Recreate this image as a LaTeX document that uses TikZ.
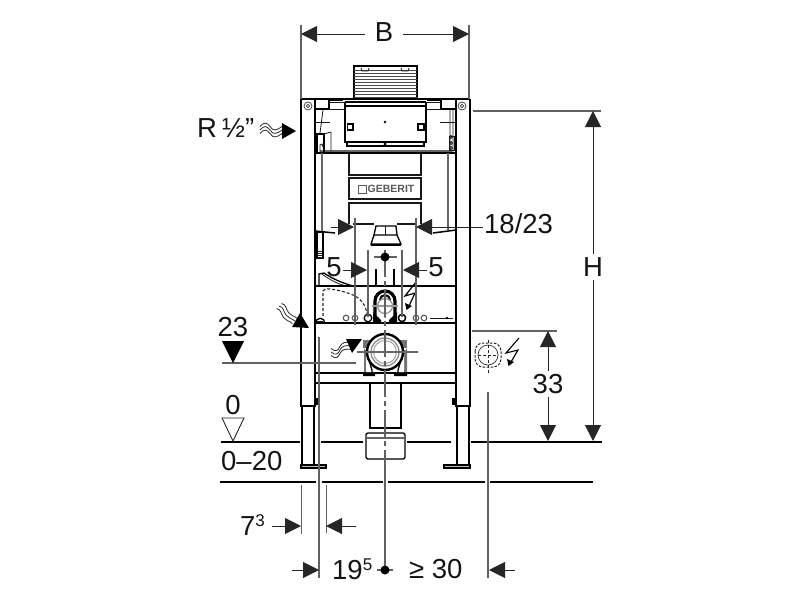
\documentclass[tikz,border=0pt]{standalone}
\usepackage{fontspec}
\setmainfont{Liberation Sans}
\usetikzlibrary{arrows.meta}
\definecolor{ln}{gray}{0.38}
\tikzset{
  heavy/.style={draw=black,line width=2.2pt},
  med/.style={draw=black,line width=1.3pt},
  fine/.style={draw=black!90,line width=.8pt},
  dimline/.style={draw=ln,line width=1.2pt},
  greyline/.style={draw=black!60,line width=1.1pt},
  axis/.style={draw=ln,line width=1.2pt,dash pattern=on 27pt off 4pt on 5pt off 4pt},
  dashedthin/.style={draw=black!85,line width=.9pt,dash pattern=on 3pt off 2pt},
  dimarrow/.style={draw=black!85,line width=1pt,-{Triangle[length=16pt,width=16pt]}},
  lbl/.style={font=\fontsize{27.5}{27.5}\selectfont,inner sep=0pt,text=black!92},
  wave/.style={draw=black!80,line width=.85pt},
  ringl/.style={draw=black!65,line width=.9pt},
}
\begin{document}
\begin{tikzpicture}[x=1pt,y=-1pt]
\useasboundingbox (0,0) rectangle (800,600);
% named anchors
\coordinate (Bl) at (301,34); \coordinate (Br) at (469,34);
\coordinate (Hu) at (593,111); \coordinate (Hd) at (593,441);
\coordinate (Tu) at (548,331); \coordinate (Td) at (548,441);
% ground and floor
\draw[heavy] (221,442)--(300,442) (321,442)--(363,442) (407,442)--(451,442) (471,442)--(602,442);
\draw[heavy,line width=2pt] (220,482)--(316,482) (322,482)--(383,482) (388,482)--(485,482) (490,482)--(593,482);
% frame
\draw[heavy] (301,99)--(469,99);
\draw[heavy] (301,99)--(301,406)--(315,406)--(315,99);
\draw[heavy] (456,99)--(456,406)--(470,406)--(470,99);
\draw[heavy,line width=1.6pt] (302,406)--(302,465) (314,406)--(314,465) (457,406)--(457,465) (469,406)--(469,465);
\draw[med,fill=black!25] (301,465) rectangle (326,468);
\draw[med,fill=black!25] (444,465) rectangle (470,468);
\fill (315,398) rectangle (318,405); \fill (452,398) rectangle (456,405);
% frame details top
\foreach \x in {308,462}{\draw[ringl] (\x,106) circle (4); \draw[ringl] (\x,106) circle (1.8);}
\draw[heavy,line width=1.6pt] (315,109)--(329,109)--(329,100)--(343,100);
\draw[heavy,line width=1.6pt] (456,109)--(441,109)--(441,100)--(427,100);
\draw[fine] (329,109)--(344,109) (441,109)--(426,109) (329,102)--(344,102) (441,102)--(426,102);
\draw[heavy] (315,153)--(456,153);
\draw[greyline] (320,151)--(452,151);
\draw[fine] (315,122)--(330,122) (440,122)--(455,122);
\draw[fine] (323,110)--(320,133) (450,110)--(450,150) (453,110)--(453,152) (331,132)--(331,151);
\draw[heavy,line width=1.7pt] (317,153)--(317,134)--(324,134)--(324,153);
\draw[fine] (324,134)--(331,132);
\draw[fine] (320,153)--(320,145)--(322,144)--(323,147);
\draw[fine] (449,136) rectangle (454,150);
\draw[fine] (451,137) circle (1.5) (451,143) circle (1.5) (451,148) circle (1.5);
\draw[greyline] (322,153)--(322,232) (448,153)--(448,230);
% cistern top
\draw[med] (354,66)--(354,100) (417,66)--(417,100) (353,66)--(418,66);
\foreach \y in {70,73,76,79,82,85,88,91,94,97}{\draw[draw=black!70,line width=.75pt] (354,\y)--(417,\y);}
\draw[fine] (361,68)--(362,71)--(368,71)--(369,68) (401,68)--(402,71)--(408,71)--(409,68);
% tank
\draw[heavy] (345,102)--(426,102);
\draw[heavy] (345,106)--(426,106);
\draw[med] (345,102)--(345,143) (426,102)--(426,143);
\draw[heavy] (345,142)--(426,142);
\draw[med] (347,143)--(347,146)--(424,146)--(424,143);
\draw[heavy,line width=1.7pt] (347.5,124) rectangle (353,130);
\draw[heavy,line width=1.7pt] (418,124) rectangle (424,130);
\fill (385,122) circle (1.4) (385,144) circle (1.6);
% panels
\draw[fine,line width=1.1pt] (349,153)--(349,175)--(421,175)--(421,153);
\draw[fine,line width=1.1pt] (349,178) rectangle (421,199);
\draw[fine,line width=1.1pt] (349,224)--(349,203)--(421,203)--(421,224);
\draw[fine,draw=black!65] (358,185) rectangle (366,193);
\node[inner sep=0pt,anchor=west,text=black!65,font=\bfseries\fontsize{10.5}{10.5}\selectfont] (logo) at (367.5,189) {GEBERIT};
% bowl zone
\draw[fine,line width=1.1pt] (353,224)--(374,224) (397,224)--(417,224);
\draw[heavy,line width=1.5pt] (315,231)--(335,233) (433,233)--(456,230);
\draw[med] (374,235)--(376,226)--(396,226)--(397,235);
\draw[med] (371,244)--(374,235)--(397,235)--(401,244)--cycle;
\draw[fine] (385,226)--(385,235);
\draw[med] (371,245)--(401,245);
% left flush block
\draw[med,fill=white] (317,232) rectangle (323,258);
\foreach \y in {251,253,255,257}{\draw[fine] (317,\y)--(323,\y);}
\draw[med] (319,286)--(319,274)--(324,273) .. controls (331,278) and (342,283) .. (353,286);
\draw[fine] (322,274) .. controls (330,280) and (338,284) .. (346,286);
\draw[heavy,line width=1.8pt] (315,286)--(456,286);
\draw[heavy,line width=1.5pt] (376,269)--(376,286) (394,269)--(394,286);
\draw[dashedthin,line width=1.1pt] (323,316)--(323,291) .. controls (324,288) and (326,289) .. (330,289) .. controls (338,290) and (346,292) .. (353,295) .. controls (360,298) and (366,305) .. (367,314);
% lower bar with circles
\draw[heavy] (315,323)--(456,323);
\draw[med] (315.5,323) arc[start angle=180,end angle=360,radius=4.7];
\draw[fine] (317,321)--(323,321);
\draw[ringl,line width=1.1pt] (346,318) circle (2.8) (355,318) circle (2.8) (416,318) circle (2.8) (424,318) circle (2.8);
\draw[med] (368,318) circle (3.8);
\draw[med,line width=1.5pt] (402,318) circle (3.6);
\draw[fine] (430,318)--(453,318);
\fill (447,318) circle (1.3);
% siphon
\draw[draw=black,line width=3.2pt] (375,320)--(375,301) arc[start angle=180,end angle=360,radius=10] -- (395,320);
\draw[draw=black,line width=2pt] (380,300) arc[start angle=180,end angle=360,radius=5];
\fill (373,312)--(381,320)--(381,323)--(373,323)--cycle;
\fill (397,312)--(389,320)--(389,323)--(397,323)--cycle;
\draw[draw=white,fill=white,line width=.5pt] (385,306) circle (6);
\draw[ringl,draw=black!40,line width=1.3pt] (385,306) circle (7.5);
\draw[dimline,draw=black!40] (372,306)--(398,306);
\draw[dimline,draw=black!40] (385,290)--(385,318);
% lower bars
\draw[med] (315,373)--(456,373);
\draw[med] (315,383)--(456,383);
% flush pipe
\fill[black!55] (363,340) rectangle (407,348);
\fill[black!55] (364,348)--(373,362)--(373,372)--(364,372)--cycle;
\fill[black!55] (407,348)--(398,362)--(398,372)--(407,372)--cycle;
\fill[white] (366,350)--(374,366)--(374,372)--(366,372)--cycle;
\fill[white] (404,350)--(396,366)--(396,372)--(404,372)--cycle;
\draw[med] (366,350)--(372,370)--(372,373) (404,350)--(398,370)--(398,373);
\draw[draw=black,fill=white,line width=2.4pt] (385,352) circle (18);
\draw[ringl,draw=black!45,line width=1.3pt] (385,352) circle (14);
\draw[ringl,draw=black!40] (385,352) circle (11.5);
\fill (363,373) rectangle (375,376) (394,373) rectangle (407,376);
\draw[med] (370,383)--(370,428)--(401,428)--(401,383);
\draw[med,rounded corners=2pt] (366,459) rectangle (405,433);
\draw[greyline] (366,438)--(405,438);
% electrical (right)
\draw[dashedthin,rounded corners=8pt,line width=1pt,dash pattern=on 2.5pt off 1.5pt] (475,343) rectangle (501,367);
\draw[draw=black!80,line width=.7pt] (488,355) circle (10);
\draw[dashedthin,line width=.8pt] (478,355)--(498,355) (488,340)--(488,375);
\draw[draw=black,line width=1.1pt] (519,338)--(506,353)--(518,350)--(511,362);
\fill (508.5,366)--(507,359)--(514,362)--cycle;
% electrical (centre)
\draw[draw=black,line width=1.2pt] (416,282)--(405,296)--(415,293)--(409,306);
\fill (406.5,310)--(405,303)--(412,306)--cycle;
% waves
\foreach \d in {-3.5,0,3.5}{
 \draw[wave] (260,130+\d) .. controls (264,125+\d) and (267,126+\d) .. (270,130+\d) .. controls (273,135+\d) and (277,134+\d) .. (282,130+\d);
 \draw[wave] (331,352+\d) .. controls (336,356+\d) and (338,354+\d) .. (340,350+\d) .. controls (342,346+\d) and (345,345+\d) .. (352,346+\d);
}
\foreach \d in {-2.5,0,2.5}{
 \draw[wave] (279+\d,306-\d) .. controls (284+\d,307-\d) and (283+\d,311-\d) .. (286+\d,315-\d) .. controls (288+\d,318-\d) and (291+\d,318-\d) .. (295+\d,321-\d);
}
\fill (282,123)--(296,131)--(282,139)--cycle;
\fill (300,313)--(309,328)--(292,327)--cycle;
\fill (346,339)--(362,339)--(352,353)--cycle;
% levels
\draw[dimline] (222,363)--(356,363);
\fill (222,341)--(244,341)--(233,363)--cycle;
\draw[draw=black!85,line width=.9pt,fill=white] (222,418)--(244,418)--(233,441)--cycle;
% extension lines
\draw[dimline] (301,25)--(301,99) (469,25)--(469,99);
\draw[dimline] (473,111)--(601,111) (472,331)--(557,331);
\draw[dimline] (355,218)--(355,325) (416,218)--(416,325);
\draw[dimline] (368,250)--(368,317) (402,250)--(402,317);
\draw[axis] (385,250)--(385,473);
\draw[dimline] (385,473)--(385,570);
\draw[dimline] (374,257)--(397,257);
\fill (385,257) circle (4.5);
\draw[dimline,draw=black!60] (357,352)--(418,352);
\draw[dimline] (319,337)--(319,578);
\draw[dimline,line width=1pt] (301,485)--(301,534) (326,485)--(326,533);
\draw[dimline] (488,392)--(488,578);
\draw[dimline] (377,570)--(393,570);
\fill (385,570) circle (4.5);
% dimension arrows
\coordinate (k1) at (331,227); \coordinate (k2) at (354,227);
\coordinate (k3) at (483,227); \coordinate (k4) at (416,227);
\draw[dimarrow] (k1)--(k2);
\draw[dimarrow] (k3)--(k4);
\coordinate (f1) at (343,270); \coordinate (f2) at (367,270);
\coordinate (f3) at (427,270); \coordinate (f4) at (403,270);
\draw[dimarrow] (f1)--(f2);
\draw[dimarrow] (f3)--(f4);
\coordinate (s1) at (272,526); \coordinate (s2) at (301,526);
\coordinate (s3) at (356,526); \coordinate (s4) at (326,526);
\draw[dimarrow] (s1)--(s2);
\draw[dimarrow] (s3)--(s4);
\coordinate (n1) at (292,570); \coordinate (n2) at (319,570);
\coordinate (n3) at (515,570); \coordinate (n4) at (489,570);
\draw[dimarrow] (n1)--(n2);
\draw[dimarrow] (n3)--(n4);
% labels
\node[lbl] (lB) at (384,32) {B};
\draw[dimarrow] (365,34)--(Bl);
\draw[dimarrow] (403,34)--(Br);
\node[lbl] (lH) at (593,267) {H};
\draw[dimarrow] (lH.north)+(0,-3) -- (Hu);
\draw[dimarrow] (lH.south)+(0,3) -- (Hd);
\node[lbl] (l33) at (548,384) {33};
\draw[dimarrow] (l33.north)+(0,-3) -- (Tu);
\draw[dimarrow] (l33.south)+(0,3) -- (Td);
\node[lbl,anchor=west] (l18) at (484,224) {18/23};
\node[lbl] (l5a) at (334,267) {5};
\node[lbl] (l5b) at (436,267) {5};
\node[lbl,anchor=west] (lR) at (197,128) {R};
\node[lbl,anchor=west] (lh) at (222,128) {½"};
\node[lbl] (l23) at (233,327) {23};
\node[lbl] (l0) at (233,405) {0};
\node[lbl,anchor=west] (l020) at (221,461) {0–20};
\node[lbl,anchor=west] (l7) at (240,525) {7\raisebox{9pt}{\fontsize{17}{17}\selectfont 3}};
\node[lbl,anchor=west] (l19) at (332,569) {19\raisebox{9pt}{\fontsize{17}{17}\selectfont 5}};
\node[lbl,anchor=west] (l30) at (409,569) {≥ 30};
\end{tikzpicture}
\end{document}
